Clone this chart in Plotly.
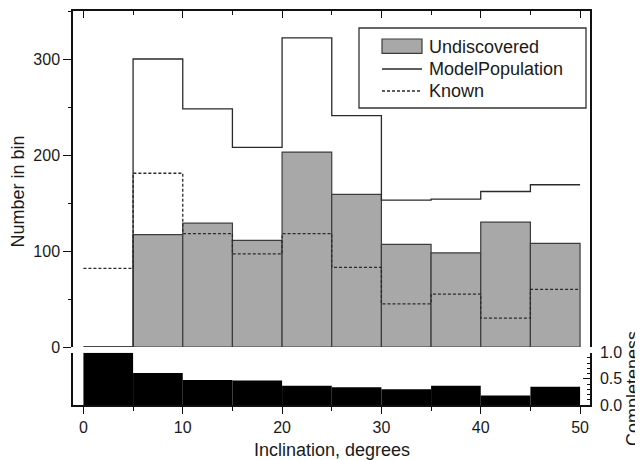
import plotly.graph_objects as go

# ---- data ----
bin_left = [0, 5, 10, 15, 20, 25, 30, 35, 40, 45]
bin_right_end = 50
bin_width = 5
undiscovered = [0, 117, 129, 111, 203, 159, 107, 98, 130, 108]
model_population = [0, 300, 248, 208, 322, 241, 153, 154, 162, 169]
known = [82, 181, 118, 97, 118, 83, 45, 55, 30, 60]
completeness = [1.0, 0.61, 0.48, 0.47, 0.37, 0.34, 0.30, 0.37, 0.18, 0.35]

x_ticks = [0, 10, 20, 30, 40, 50]
y_ticks = [0, 100, 200, 300]
c_ticks = [0.0, 0.5, 1.0]

FONT = "Liberation Sans, Arial, sans-serif"
TXT = "#1a1a1a"

centers = [b + bin_width / 2 for b in bin_left]
step_x = bin_left + [bin_right_end]

fig = go.Figure()

fig.add_trace(go.Bar(
    x=centers, y=undiscovered, width=bin_width,
    marker=dict(color="#a8a8a8", line=dict(color="#3c3c3c", width=1.2)),
    xaxis="x", yaxis="y", showlegend=False, name="Undiscovered"))

fig.add_trace(go.Scatter(
    x=step_x, y=model_population + [model_population[-1]], mode="lines",
    line=dict(color="#2a2a2a", width=1.3, shape="hv"),
    xaxis="x", yaxis="y", showlegend=False, name="ModelPopulation"))

fig.add_trace(go.Scatter(
    x=step_x, y=known + [known[-1]], mode="lines",
    line=dict(color="#2a2a2a", width=1.3, shape="hv", dash="3px,2px"),
    xaxis="x", yaxis="y", showlegend=False, name="Known"))

fig.add_trace(go.Bar(
    x=centers, y=completeness, width=bin_width,
    marker=dict(color="#000000", line=dict(width=0)),
    xaxis="x2", yaxis="y2", showlegend=False, name="Completeness"))

# invisible trace to activate the right-hand completeness axis
fig.add_trace(go.Scatter(x=[None], y=[None], xaxis="x2", yaxis="y3",
                         showlegend=False, hoverinfo="skip"))

# page offset compensation (browser body margin)
OFF = 8

W, H = 643, 460
L, R, T, B = 73 - OFF, 643 - (590 - OFF), 11 - OFF, 460 - (405 - OFF)
PW, PH = W - L - R, H - T - B

def px_x(p):
    return (p - OFF - L) / PW

def px_y(p):
    return (H - B - (p - OFF)) / PH

top_dom = [px_y(347), 1.0]
bot_dom = [0.0, px_y(352.7)]
xr = [-1.05, 51.0]

axis_common = dict(showgrid=False, zeroline=False, linecolor="#111", linewidth=1.5,
                   automargin=False,
                   tickcolor="#111", tickfont=dict(family=FONT, size=16, color=TXT))

fig.update_layout(
    width=W, height=H,
    margin=dict(l=L, r=R, t=T, b=B, pad=0, autoexpand=False),
    paper_bgcolor="white", plot_bgcolor="white",
    barmode="overlay",
    font=dict(family=FONT, color=TXT),
    xaxis=dict(**axis_common, domain=[0, 1], anchor="y", range=xr, side="top",
               showline=True, ticks="inside", ticklen=7, tickwidth=1.3,
               tickvals=x_ticks, showticklabels=False,
               minor=dict(dtick=5, ticks="inside", ticklen=4, tickcolor="#111", tickwidth=1.2)),
    yaxis=dict(**axis_common, domain=top_dom, anchor="x", range=[0, 350],
               showline=True, mirror=True, ticks="outside", ticklen=8, tickwidth=1.3,
               tickvals=y_ticks,
               minor=dict(dtick=50, ticks="outside", ticklen=3, tickcolor="#111", tickwidth=1.2)),
    xaxis2=dict(**axis_common, domain=[0, 1], anchor="y2", range=xr, side="bottom",
                showline=True, ticks="outside", ticklen=7, tickwidth=1.3,
                tickvals=x_ticks,
                minor=dict(dtick=5, ticks="outside", ticklen=4, tickcolor="#111", tickwidth=1.2)),
    yaxis2=dict(**axis_common, domain=bot_dom, anchor="x2", range=[0, 1.0],
                showline=True, ticks="", showticklabels=False),
    yaxis3=dict(**axis_common, overlaying="y2", anchor="x2", side="right", range=[0, 1.0],
                showline=True, ticks="inside", ticklen=7, tickwidth=1.3,
                tickvals=c_ticks, tickformat=".1f", ticklabelstandoff=5,
                minor=dict(dtick=0.1, ticks="inside", ticklen=3, tickcolor="#111", tickwidth=1.0)),
)

# axis titles
fig.add_annotation(text="Number in bin", xref="paper", yref="paper",
                   x=px_x(18), y=px_y(191.5), textangle=-90, showarrow=False,
                   xanchor="center", yanchor="middle",
                   font=dict(family=FONT, size=18, color=TXT))
fig.add_annotation(text="Inclination, degrees", xref="paper", yref="paper",
                   x=px_x(331.5), y=px_y(450), showarrow=False,
                   xanchor="center", yanchor="middle",
                   font=dict(family=FONT, size=18, color=TXT))
fig.add_annotation(text="Completeness", xref="paper", yref="paper",
                   x=px_x(633), y=px_y(389), textangle=-90, showarrow=False,
                   xanchor="center", yanchor="middle",
                   font=dict(family=FONT, size=18, color=TXT))

# manual legend
fig.add_shape(type="rect", xref="paper", yref="paper",
              x0=px_x(359), x1=px_x(586), y0=px_y(108), y1=px_y(28),
              line=dict(color="#333", width=1.3), fillcolor="white", layer="above")
fig.add_shape(type="rect", xref="paper", yref="paper",
              x0=px_x(382), x1=px_x(422), y0=px_y(53.3), y1=px_y(39),
              line=dict(color="#3c3c3c", width=1.2), fillcolor="#a8a8a8", layer="above")
fig.add_shape(type="line", xref="paper", yref="paper",
              x0=px_x(382), x1=px_x(422), y0=px_y(69), y1=px_y(69),
              line=dict(color="#2a2a2a", width=1.3), layer="above")
fig.add_shape(type="line", xref="paper", yref="paper",
              x0=px_x(382), x1=px_x(422), y0=px_y(91), y1=px_y(91),
              line=dict(color="#2a2a2a", width=1.3, dash="3px,2px"), layer="above")
for label, ypix in [("Undiscovered", 46.7), ("ModelPopulation", 69), ("Known", 91)]:
    fig.add_annotation(text=label, xref="paper", yref="paper",
                       x=px_x(427), y=px_y(ypix), showarrow=False,
                       xanchor="left", yanchor="middle",
                       font=dict(family=FONT, size=18, color=TXT))

fig.write_html("out.html")
